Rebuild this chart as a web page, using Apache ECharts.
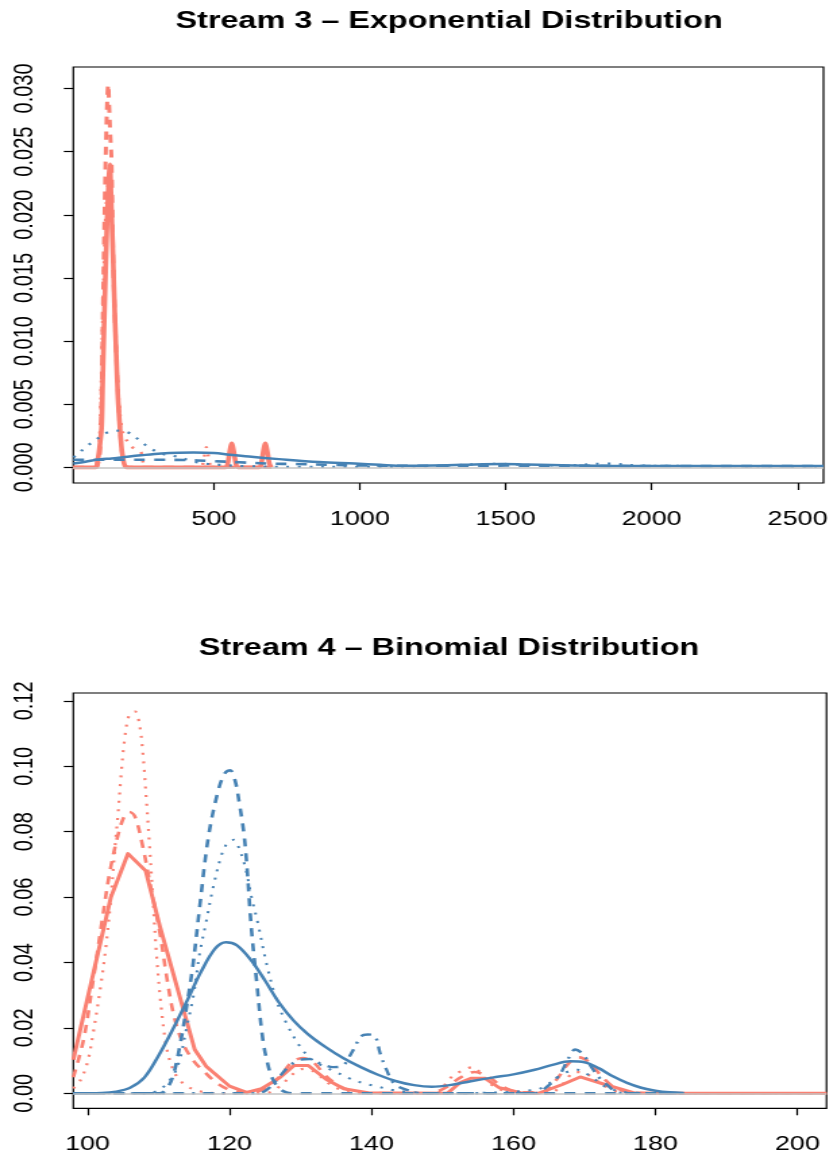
<!DOCTYPE html>
<html>
<head>
<meta charset="utf-8">
<script src="https://cdn.jsdelivr.net/npm/echarts@6/dist/echarts.min.js"></script>
<style>
  html, body { margin: 0; padding: 0; background: #fff; overflow: hidden; }
  /* the figure is laid out narrow and stretched horizontally, like a resized R device */
  #chart { width: 616.3px; height: 1156px; transform: scaleX(1.35); transform-origin: 0 0; }
</style>
</head>
<body>
<div id="chart"></div>
<script>
// ---------- Stream 3: exponential, kernel density estimates ([x, density]) ----------
const expXTicks = [500, 1000, 1500, 2000, 2500];
const expYTicks = [0, 0.005, 0.010, 0.015, 0.020, 0.025, 0.030];

const expSalmonSolid = [[18,0],[95,0],[100,0.0004],[106,0.0012],[110,0.002],[115,0.0032],[118,0.006],[120.5,0.0085],[125,0.0125],[129.7,0.0164],[133.5,0.0195],[137.5,0.0216],[140.5,0.0232],[143.3,0.0240],[146,0.0225],[149,0.0203],[154.6,0.0164],[160,0.0122],[166,0.0085],[171,0.0055],[177.5,0.0032],[184,0.0014],[190,0.0005],[195,0.0001],[200,0],[540,0],[547,0.0003],[553,0.0011],[558,0.0017],[561,0.0019],[564,0.0017],[569,0.0011],[575,0.0003],[582,0],[655,0],[662,0.0003],[668,0.0011],[673,0.0017],[676,0.0019],[679,0.0017],[684,0.0011],[690,0.0003],[697,0]];
const expSalmonDashed = [[18,0],[95,0],[103,0.0003],[109,0.0011],[115,0.0059],[120.5,0.0138],[126.3,0.0217],[131,0.0265],[134.5,0.0292],[137.5,0.0303],[141,0.0285],[145,0.0262],[149,0.0243],[154.6,0.0164],[160,0.0122],[166,0.0085],[172,0.0055],[177.5,0.0032],[186,0.001],[194.5,0.0002],[205,0],[697,0]];
const expSalmonDotted = [[18,0],[95,0],[104,0.001],[110,0.0035],[116,0.009],[122,0.015],[128,0.0195],[134,0.0218],[140,0.0226],[146,0.0215],[152,0.0185],[158,0.014],[165,0.0095],[172,0.006],[180,0.0038],[190,0.0026],[205,0.002],[220,0.0016],[235,0.0014],[250,0.0012],[256,0.0005],[262,0.0001],[270,0],[456,0],[463,0.0004],[469,0.0011],[474,0.0016],[479,0.0011],[485,0.0004],[492,0],[697,0]];
const expBlueSolid = [[18,0.0003],[60,0.00045],[109,0.00063],[150,0.0007],[189,0.0008],[250,0.00095],[320,0.0011],[380,0.00116],[430,0.00117],[500,0.00113],[553,0.001],[620,0.00085],[723,0.00065],[860,0.00042],[983,0.0003],[1070,0.0002],[1152,0.00013],[1250,0.00015],[1350,0.0002],[1488,0.00026],[1570,0.00022],[1657,0.00018],[1800,0.00013],[1994,0.0001],[2200,0.0001],[2400,0.0001],[2589,0.0001]];
const expBlueDashed = [[18,0.0006],[109,0.0006],[188,0.0006],[297,0.0006],[396,0.00058],[491,0.0005],[587,0.0004],[689,0.0003],[778,0.00026],[900,0.0002],[1000,0.00015],[1200,0.00012],[1500,0.00014],[1800,0.00012],[2100,0.0001],[2400,0.0001],[2589,0.0001]];
const expBlueDotted = [[18,0.0008],[32,0.001],[60,0.0016],[91,0.0021],[128,0.0027],[171,0.0029],[212,0.0027],[246,0.0021],[276,0.0016],[317,0.0011],[363,0.0009],[410,0.0006],[450,0.00036],[520,0.0002],[600,0.0001],[800,0.00003],[1000,0.00003],[1250,0.0001],[1480,0.00028],[1560,0.0002],[1700,0.00015],[1850,0.0003],[1950,0.00015],[2200,0.0001],[2589,0.00005]];

// ---------- Stream 4: binomial, kernel density estimates ([x, density]) ----------
const binXTicks = [100, 120, 140, 160, 180, 200];
const binYTicks = [0, 0.02, 0.04, 0.06, 0.08, 0.10, 0.12];

const binSalmonSolid = [[98,0.0103],[103.3,0.060],[105.7,0.0733],[108.2,0.068],[110.2,0.051],[115.1,0.0134],[116.7,0.0083],[120,0.0022],[122.4,0.0003],[124.5,0.0014],[127.1,0.0048],[129.1,0.0085],[131.1,0.0085],[133.6,0.0043],[136.1,0.0014],[139.5,0.0002],[150.7,0],[152.5,0.0033],[154,0.0046],[156,0.0046],[158,0.0017],[161,0.0002],[163.5,0],[166.9,0.0027],[169.4,0.005],[172.9,0.0027],[176.9,0.0002],[180,0],[204.1,0]];
const binSalmonDashed = [[98,0.0049],[99.5,0.017],[100.8,0.0347],[102,0.052],[103.1,0.0672],[104.3,0.079],[105.2,0.0848],[105.9,0.086],[106.7,0.0845],[107.8,0.0753],[109,0.062],[110.2,0.049],[111.2,0.035],[112.2,0.0235],[113.5,0.015],[115,0.0098],[116.5,0.0065],[118,0.0035],[119.5,0.0015],[121,0.0005],[123,0.0003],[125,0.0015],[127,0.005],[128.8,0.0095],[130.3,0.0108],[131.8,0.0095],[133.5,0.0055],[135.5,0.0022],[137.5,0.0007],[140,0.0001],[148,0],[150.5,0.0018],[152.5,0.0048],[154.5,0.0065],[156.5,0.005],[158.5,0.002],[161,0.0003],[164,0.0003],[166,0.004],[167.7,0.009],[169.2,0.011],[170.7,0.0095],[172.5,0.005],[174.5,0.0015],[177,0.0002],[180,0],[204.1,0]];
const binSalmonDotted = [[98,0.0015],[99,0.004],[100,0.0095],[100.8,0.0185],[101.8,0.032],[102.6,0.045],[103.3,0.06],[103.8,0.0734],[104.3,0.0855],[104.7,0.0966],[105.2,0.1078],[105.9,0.1159],[106.7,0.1167],[107.3,0.113],[107.8,0.104],[108.3,0.0894],[108.7,0.077],[109.2,0.06],[109.7,0.043],[110.3,0.028],[111.1,0.0144],[112,0.0075],[112.8,0.0045],[114,0.0022],[115.5,0.0008],[117,0.0002],[119,0],[125,0],[127,0.002],[129,0.006],[130.5,0.0075],[132,0.0065],[134,0.003],[136,0.0008],[138,0],[149,0],[151,0.0045],[152.9,0.0071],[154.3,0.008],[155.5,0.0058],[157,0.0025],[159,0.0005],[161,0],[165,0],[167,0.003],[168.7,0.0065],[170,0.0062],[172,0.0035],[174,0.001],[176,0],[204.1,0]];
const binBlueSolid = [[98,0],[102,0.0001],[104,0.0005],[106,0.0017],[108,0.0048],[110,0.0115],[112,0.0195],[114,0.0282],[116,0.0372],[118,0.0443],[119.5,0.0462],[121,0.0453],[123,0.0408],[125,0.0345],[127,0.0277],[129,0.0223],[131,0.0182],[133.5,0.0142],[136,0.0108],[138.5,0.008],[141,0.0056],[143.5,0.0037],[146,0.0025],[148.5,0.002],[151,0.0025],[154,0.0037],[157,0.0048],[160,0.0058],[163,0.0072],[165.5,0.0087],[168,0.0098],[170,0.0095],[172,0.0077],[174,0.0052],[176,0.0032],[178,0.0017],[180,0.0008],[182,0.0003],[184,0.0001]];
const binBlueDashed = [[98,0],[110.2,0],[111.1,0.0012],[112,0.005],[113,0.0144],[114,0.027],[114.9,0.040],[115.8,0.057],[117,0.078],[118.4,0.0925],[119.4,0.098],[120.1,0.0988],[120.8,0.0955],[121.4,0.0885],[122,0.08],[122.4,0.071],[123.1,0.050],[123.8,0.0347],[124.7,0.0164],[125.5,0.008],[126.1,0.0043],[127,0.0015],[128,0.0003],[129,0],[184,0]];
const binBlueDotted = [[98,0],[108,0],[110.2,0.0012],[112,0.0053],[113,0.0103],[113.9,0.0195],[114.9,0.0296],[115.8,0.0428],[116.7,0.0523],[117.7,0.063],[118.9,0.073],[119.8,0.0768],[120.6,0.0775],[121.4,0.0746],[122.3,0.0685],[123.1,0.060],[124,0.052],[125.2,0.0398],[126.6,0.0286],[128,0.0215],[129.9,0.0144],[131.5,0.0105],[133,0.0085],[135,0.0065],[137,0.0045],[139,0.003],[141,0.002],[143,0.001],[146,0.0003],[149,0],[163,0.001],[165,0.003],[167,0.006],[169,0.0072],[171,0.005],[173,0.002],[176,0.0003],[184,0]];
const binBlueDotDash = [[98,0],[124,0],[125.5,0.0015],[127,0.005],[128.5,0.0085],[130,0.0103],[131.3,0.0105],[132.7,0.0092],[134.6,0.008],[136,0.0085],[137.2,0.0124],[138.6,0.0175],[139.5,0.018],[140.5,0.0175],[141.2,0.0124],[142.1,0.0073],[143.3,0.0027],[145.4,0.0008],[147,0],[163,0],[165,0.0025],[166.6,0.006],[167.7,0.0105],[168.7,0.0134],[169.8,0.012],[170.9,0.0083],[172.2,0.0045],[173.4,0.0022],[174.4,0.0005],[176,0],[184,0]];

// ---------- layout ----------
const SX = 1.35;                 // horizontal stretch applied to #chart
const FONT = "'Liberation Sans', Arial, Helvetica, sans-serif";
const SALMON = '#FA8072';
const STEEL = '#4682B4';
const DASH = [8, 7], DOT = [2, 6.5], DOTDASH = [2, 6, 8, 6];
const plotLeft = 73.3 / SX, plotWidth = (826.5 - 73.3) / SX;

function grid(top, height) {
  return { left: plotLeft, width: plotWidth, top: top, height: height, show: true,
           borderColor: '#000', borderWidth: 1.2, backgroundColor: 'transparent' };
}
function xAxis(gi, min, max, ticks) {
  return { type: 'value', gridIndex: gi, min: min, max: max,
    axisLine: { show: false, onZero: false },
    splitLine: { show: false },
    axisTick: { show: true, length: 7, customValues: ticks, lineStyle: { color: '#000', width: 1.2 } },
    axisLabel: { customValues: ticks, fontSize: 20, fontFamily: FONT, color: '#000', margin: 26,
                 formatter: v => String(v) } };
}
function yAxis(gi, min, max, ticks, digits) {
  return { type: 'value', gridIndex: gi, min: min, max: max,
    axisLine: { show: false, onZero: false },
    splitLine: { show: false },
    axisTick: { show: true, length: 7, customValues: ticks, lineStyle: { color: '#000', width: 1.2 } },
    axisLabel: { customValues: ticks, rotate: 90, fontSize: 20, fontFamily: FONT, color: '#000', margin: 26,
                 formatter: v => v.toFixed(digits) } };
}
function curve(name, data, color, width, dash, gi, smooth) {
  return { type: 'line', name: name, data: data, xAxisIndex: gi, yAxisIndex: gi,
    showSymbol: false, symbol: 'none', smooth: smooth, clip: true,
    lineStyle: { color: color, width: width, type: dash || 'solid', cap: 'butt', join: 'round' } };
}
function zeroLine(gi) {
  return { type: 'line', name: 'zero' + gi, data: [], xAxisIndex: gi, yAxisIndex: gi, z: 1,
    markLine: { silent: true, symbol: 'none', animation: false, label: { show: false },
      lineStyle: { color: '#c4c4c4', width: 1.5, type: 'solid' }, data: [{ yAxis: 0 }] } };
}

const option = {
  animation: false,
  backgroundColor: '#fff',
  grid: [grid(67, 416), grid(693, 415.3)],
  xAxis: [xAxis(0, 18, 2589, expXTicks), xAxis(1, 98, 204.1, binXTicks)],
  yAxis: [yAxis(0, -0.00124, 0.0317, expYTicks, 3), yAxis(1, -0.00458, 0.1224, binYTicks, 2)],
  graphic: [
    { type: 'text', x: 449 / SX, y: 21, style: { text: 'Stream 3 \u2013 Exponential Distribution',
      fontSize: 24, fontWeight: 'bold', fontFamily: FONT, fill: '#000', align: 'center', verticalAlign: 'middle' } },
    { type: 'text', x: 449 / SX, y: 648, style: { text: 'Stream 4 \u2013 Binomial Distribution',
      fontSize: 24, fontWeight: 'bold', fontFamily: FONT, fill: '#000', align: 'center', verticalAlign: 'middle' } }
  ],
  series: [
    zeroLine(0),
    curve('S3 salmon dotted', expSalmonDotted, SALMON, 2.4, DOT, 0, 0.35),
    curve('S3 salmon dashed', expSalmonDashed, SALMON, 3, DASH, 0, 0.35),
    curve('S3 salmon solid', expSalmonSolid, SALMON, 3.6, null, 0, 0.35),
    curve('S3 blue dotted', expBlueDotted, STEEL, 2.2, DOT, 0, 0.35),
    curve('S3 blue dashed', expBlueDashed, STEEL, 2.6, DASH, 0, 0.35),
    curve('S3 blue solid', expBlueSolid, STEEL, 2.5, null, 0, 0.35),

    zeroLine(1),
    curve('S4 salmon dotted', binSalmonDotted, SALMON, 2.2, DOT, 1, 0.35),
    curve('S4 salmon dashed', binSalmonDashed, SALMON, 2.6, DASH, 1, 0.35),
    curve('S4 salmon solid', binSalmonSolid, SALMON, 3, null, 1, false),
    curve('S4 blue dotted', binBlueDotted, STEEL, 2, DOT, 1, 0.35),
    curve('S4 blue dashed', binBlueDashed, STEEL, 2.6, DASH, 1, 0.35),
    curve('S4 blue dot-dash', binBlueDotDash, STEEL, 2.4, DOTDASH, 1, 0.35),
    curve('S4 blue solid', binBlueSolid, STEEL, 2.5, null, 1, 0.35)
  ]
};

const chart = echarts.init(document.getElementById('chart'), null, { renderer: 'canvas' });
chart.setOption(option);
</script>
</body>
</html>
